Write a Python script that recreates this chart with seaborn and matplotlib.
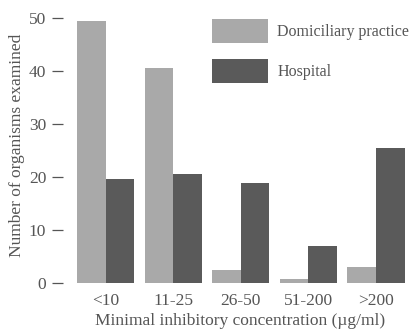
import matplotlib
matplotlib.use("Agg")
import matplotlib.pyplot as plt
import seaborn as sns
import pandas as pd

categories = ["<10", "11-25", "26-50", "51-200", ">200"]
domiciliary = [49.5, 40.6, 2.5, 0.8, 3.1]
hospital = [19.6, 20.6, 18.9, 6.9, 25.5]
series = ["Domiciliary practice", "Hospital"]
colors = ["#a9a9a9", "#5a5a5a"]

df = pd.DataFrame({
    "mic": categories * 2,
    "count": domiciliary + hospital,
    "source": [series[0]] * len(categories) + [series[1]] * len(categories),
})

sns.set_style("white")
plt.rcParams["font.family"] = ["Liberation Serif", "DejaVu Serif"]
txt = "#555555"

fig = plt.figure(figsize=(4.11, 3.29), dpi=100)
ax = fig.add_axes([0.170, 0.1307, 0.830, 0.854])

sns.barplot(data=df, x="mic", y="count", hue="source", order=categories,
            hue_order=series, palette=colors, saturation=1, width=0.85,
            linewidth=0, ax=ax)

ax.set_xlim(-0.53, 4.52)
ax.set_ylim(-0.57, 52.45)
ax.set_yticks([0, 10, 20, 30, 40, 50])

for s in ax.spines.values():
    s.set_visible(False)
ax.spines["left"].set_position(("outward", 5))

ax.tick_params(axis="y", direction="out", length=8, width=0.9, color=txt,
               labelsize=12.5, labelcolor=txt, pad=4, left=True)
ax.tick_params(axis="x", length=0, labelsize=12.5, labelcolor=txt, pad=5)

ax.set_xlabel("Minimal inhibitory concentration (\u00b5g/ml)", fontsize=12.5,
              color=txt, labelpad=3)
ax.set_ylabel("Number of organisms examined", fontsize=12.5, color=txt,
              labelpad=3)

h, l = ax.get_legend_handles_labels()
ax.legend(h, l, loc="upper left", bbox_to_anchor=(0.416, 0.95),
          frameon=False, fontsize=11.5, handlelength=3.5, handleheight=1.95,
          handletextpad=0.6, labelspacing=1.0, labelcolor=txt,
          borderaxespad=0, borderpad=0)

fig.savefig("out.png", dpi=100)
